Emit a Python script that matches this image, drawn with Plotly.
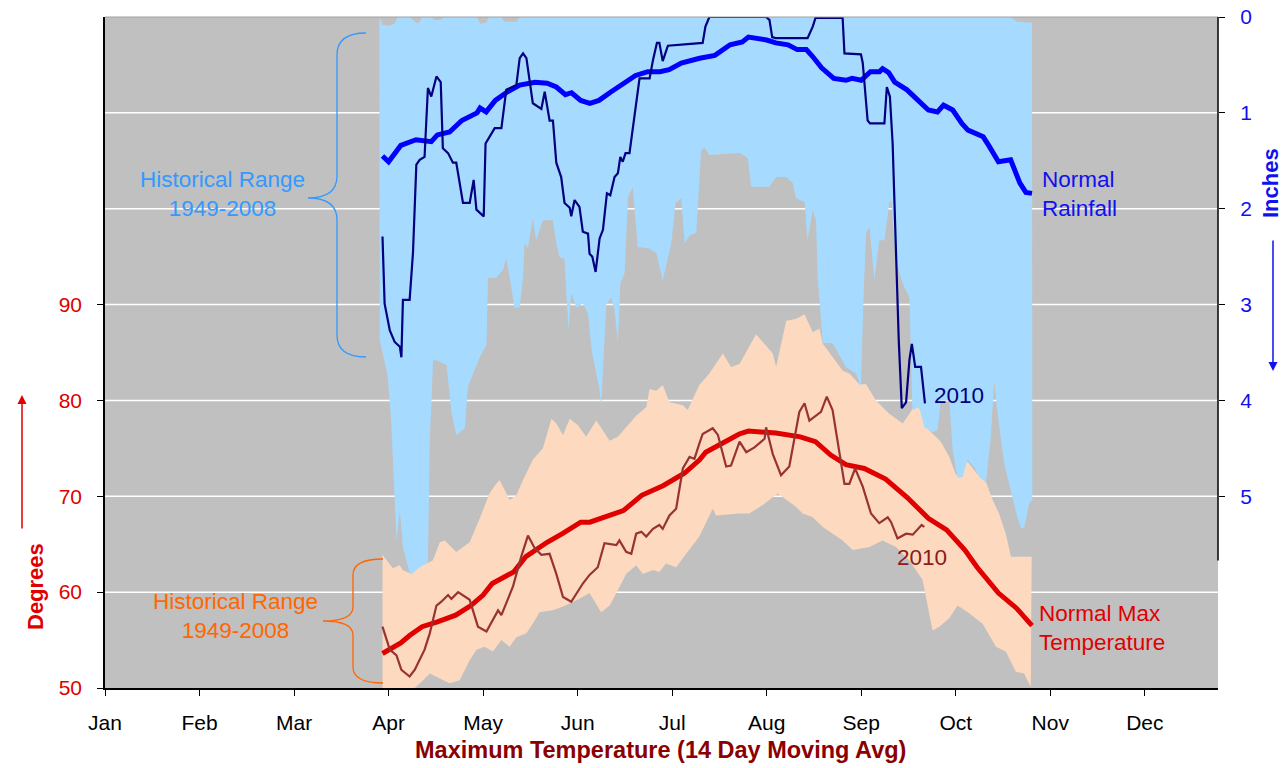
import plotly.graph_objects as go

# ---------------- data (x = day of year) ----------------
months = ['Jan', 'Feb', 'Mar', 'Apr', 'May', 'Jun', 'Jul', 'Aug', 'Sep', 'Oct', 'Nov', 'Dec']
month_ticks = [0, 31, 62, 93, 124, 155, 186, 217, 248, 279, 310, 341]
deg_ticks = [50, 60, 70, 80, 90]
inch_ticks = [0, 1, 2, 3, 4, 5]

# Normal rainfall (inches, 14 day)
rain_norm_day = [91, 93, 97, 102, 107, 109, 113, 117, 122, 123, 125, 128, 132, 136, 141, 145, 148, 151, 153, 156,
                 159, 162, 166, 170, 174, 178, 182, 185, 189, 195, 200, 205, 209, 211, 217, 220, 224, 227, 230, 232,
                 235, 239, 243, 245, 248, 251, 254, 255, 257, 259, 263, 267, 270, 273, 275, 278, 281, 283, 288, 290,
                 293, 297, 300, 302, 304]
rain_norm = [1.45, 1.51, 1.34, 1.28, 1.30, 1.23, 1.20, 1.08, 1.00, 0.95, 0.99, 0.87, 0.78, 0.71, 0.68, 0.69, 0.73, 0.81, 0.79, 0.87,
             0.90, 0.87, 0.78, 0.69, 0.61, 0.57, 0.57, 0.55, 0.48, 0.43, 0.40, 0.29, 0.26, 0.21, 0.24, 0.27, 0.29, 0.34, 0.34, 0.41,
             0.53, 0.64, 0.66, 0.64, 0.66, 0.57, 0.57, 0.54, 0.58, 0.68, 0.76, 0.88, 0.97, 0.99, 0.92, 0.97, 1.11, 1.18, 1.25, 1.35,
             1.51, 1.49, 1.73, 1.83, 1.84]

# 2010 rainfall (inches, 14 day)
rain10_day = [91.0, 91.7, 93.4, 95.0, 96.7, 97.2, 97.7, 99.9, 101.0, 102.1,
              103.2, 104.8, 105.9, 107.0, 108.7, 110.1, 110.8, 112.5, 114.1, 115.2,
              117.4, 119.6, 120.9, 121.8, 124.2, 124.8, 126.1, 127.8, 130.0, 131.6,
              134.9, 136.0, 137.1, 138.2, 140.3, 143.1, 144.2, 145.8, 146.9, 148.0,
              149.6, 150.7, 152.4, 152.9, 154.0, 155.6, 156.7, 158.4, 158.9, 159.8,
              160.9, 162.2, 163.3, 164.6, 165.7, 167.1, 168.2, 169.0, 169.8, 170.7,
              172.0, 174.2, 175.3, 178.6, 179.7, 181.0, 181.8, 182.9, 184.6, 196.0,
              196.9, 198.2, 216.8, 217.9, 218.8, 219.9, 230.4, 232.1, 233.0, 241.9,
              242.5, 247.9, 248.5, 250.1, 250.9, 255.6, 256.4, 257.4, 258.3, 260.3,
              261.3, 262.7, 263.8, 264.6, 265.7, 267.6, 268.9]
rain10 = [2.29, 2.99, 3.27, 3.39, 3.44, 3.55, 2.95, 2.95, 2.46, 1.54,
          1.49, 1.46, 0.74, 0.83, 0.62, 0.68, 1.37, 1.42, 1.52, 1.52,
          1.94, 1.94, 1.70, 2.01, 2.08, 1.32, 1.25, 1.16, 1.16, 0.76,
          0.71, 0.43, 0.38, 0.43, 0.90, 0.96, 0.78, 1.08, 1.08, 1.52,
          1.67, 1.94, 1.99, 2.08, 1.91, 1.98, 2.24, 2.26, 2.47, 2.50,
          2.66, 2.31, 2.22, 1.84, 1.86, 1.67, 1.63, 1.46, 1.51, 1.42,
          1.42, 0.90, 0.64, 0.64, 0.45, 0.27, 0.27, 0.46, 0.30, 0.27,
          0.10, 0.00, 0.00, 0.03, 0.21, 0.22, 0.22, 0.10, 0.01, 0.01,
          0.38, 0.39, 0.48, 1.08, 1.11, 1.11, 0.73, 0.83, 1.32, 3.37,
          4.08, 4.02, 3.58, 3.41, 3.65, 3.65, 4.03]

# Historical rainfall range 1949-2008 (inches): max and min
rain_max_day = [90.1, 91.7, 92.7, 93.9, 95.0, 95.6, 96.7, 97.7, 99.9, 101.0,
                103.2, 105.9, 106.5, 107.6, 108.7, 112.0, 113.6, 115.2, 118.0, 119.0,
                120.7, 122.9, 125.1, 125.6, 128.3, 130.5, 131.6, 132.7, 134.3, 136.0,
                137.1, 137.6, 138.7, 140.3, 141.4, 143.6, 146.9, 148.0, 149.1, 150.7,
                151.3, 152.0, 152.9, 154.6, 156.7, 158.4, 159.6, 162.2, 162.7, 163.5,
                164.4, 166.0, 167.1, 168.2, 169.0, 170.4, 171.5, 173.1, 174.7, 178.0,
                180.8, 182.9, 185.7, 187.1, 189.0, 190.1, 191.7, 193.9, 195.5, 196.6,
                198.2, 208.1, 210.8, 211.9, 217.9, 220.1, 223.4, 225.5, 226.6, 229.4,
                230.4, 232.1, 233.2, 233.7, 235.4, 238.6, 243.0, 246.3, 247.9, 248.7,
                249.6, 250.7, 252.3, 253.9, 255.6, 257.2, 257.8, 259.4, 261.6, 263.8,
                264.8, 267.0, 268.7, 271.4, 273.0, 274.1, 276.9, 278.0, 279.6, 281.2,
                282.9, 285.1, 286.7, 288.9, 290.5, 291.6, 292.7, 294.9, 296.5, 299.2,
                300.4, 301.4, 303.1, 304.1]
rain_max = [3.37, 3.60, 3.74, 4.24, 5.11, 5.46, 5.15, 5.53, 5.80, 5.80,
            5.74, 5.69, 4.42, 3.58, 3.58, 3.63, 4.12, 4.36, 4.29, 3.86,
            3.72, 3.55, 3.42, 2.72, 2.72, 2.64, 2.52, 2.71, 3.03, 3.03,
            2.71, 2.36, 2.41, 2.10, 2.33, 2.12, 2.12, 2.36, 2.51, 2.52,
            2.88, 3.27, 2.88, 3.03, 2.99, 3.09, 3.48, 3.89, 4.07, 3.48,
            2.99, 2.93, 3.06, 3.40, 2.78, 2.67, 1.88, 1.77, 2.40, 2.41,
            2.46, 2.75, 2.36, 1.94, 1.89, 2.36, 2.28, 2.25, 1.39, 1.36,
            1.44, 1.42, 1.47, 1.77, 1.77, 1.67, 1.67, 1.73, 1.89, 1.93,
            2.33, 2.01, 2.12, 2.71, 3.40, 3.40, 3.65, 3.72, 3.86, 2.95,
            2.25, 2.19, 2.75, 2.33, 2.33, 1.94, 1.91, 2.54, 2.78, 2.92,
            4.10, 4.07, 4.28, 4.33, 4.31, 4.00, 4.00, 4.52, 4.81, 4.80,
            4.62, 4.70, 4.80, 4.86, 4.38, 3.79, 4.13, 4.66, 4.86, 5.22,
            5.33, 5.33, 5.07, 5.04]
rain_min_day = [90, 91, 93, 95, 96, 100, 102, 103, 104, 107, 108, 110, 111, 122, 123, 125, 126,
                130, 131, 135, 136, 297, 299, 304]
rain_min = [0.00, 0.08, 0.09, 0.07, 0.00, 0.00, 0.06, 0.06, 0.00, 0.00, 0.03, 0.03, 0.00, 0.00, 0.07, 0.06, 0.00,
            0.00, 0.05, 0.05, 0.00, 0.00, 0.05, 0.06]

# Normal max temperature (deg F, 14 day)
temp_norm_day = [91, 93, 97, 100, 104, 109, 115, 120, 124, 127, 134, 138, 145, 150, 156, 159, 166, 170, 176, 183,
                 190, 195, 197, 203, 208, 211, 220, 228, 233, 238, 243, 249, 256, 263, 270, 276, 282, 286, 293, 299,
                 304]
temp_norm = [53.6, 54.0, 54.7, 55.5, 56.4, 56.9, 57.6, 58.6, 59.7, 60.9, 62.1, 63.7, 65.2, 66.1, 67.3, 67.3, 68.0, 68.5, 70.1, 71.1,
             72.4, 73.8, 74.6, 75.7, 76.5, 76.8, 76.6, 76.2, 75.7, 74.3, 73.3, 72.9, 71.8, 69.9, 67.7, 66.5, 64.4, 62.6, 59.9, 58.3,
             56.5]

# 2010 max temperature (deg F, 14 day)
temp10_day = [91.0, 92.3, 93.4, 95.6, 97.2, 99.9, 101.6, 104.8, 106.5, 108.7,
              110.3, 112.5, 113.6, 115.8, 119.6, 122.3, 125.1, 128.9, 130.0, 133.8,
              136.5, 138.7, 140.9, 143.1, 145.8, 148.0, 150.2, 152.9, 156.7, 158.9,
              161.6, 163.8, 167.7, 168.7, 170.9, 172.6, 174.2, 175.9, 177.5, 179.7,
              181.8, 182.9, 185.1, 187.3, 189.5, 191.7, 193.3, 194.9, 196.0, 199.3,
              201.0, 203.7, 205.3, 208.1, 210.3, 213.0, 216.3, 216.8, 219.0, 221.7,
              224.4, 227.7, 229.4, 231.0, 233.2, 234.8, 236.7, 238.6, 242.5, 244.1,
              246.0, 248.5, 251.2, 253.9, 256.7, 257.8, 259.9, 262.7, 264.9, 266.5,
              267.8, 268.7]
temp10 = [56.4, 55.0, 54.0, 53.4, 51.9, 51.2, 51.9, 54.0, 55.7, 58.6,
          59.0, 59.7, 59.3, 60.0, 59.2, 56.4, 55.9, 58.1, 57.6, 60.6,
          63.7, 65.9, 64.6, 63.9, 64.0, 61.9, 59.5, 59.0, 60.9, 61.8,
          62.6, 65.1, 64.9, 65.4, 64.2, 64.0, 66.1, 66.3, 65.8, 66.6,
          67.0, 66.6, 68.0, 68.7, 72.9, 74.1, 73.9, 75.5, 76.5, 77.1,
          76.4, 73.1, 73.2, 75.7, 74.6, 75.1, 76.0, 77.2, 74.4, 72.2,
          73.1, 78.8, 79.7, 77.9, 78.4, 78.8, 80.4, 79.0, 71.3, 71.3,
          72.9, 71.0, 68.2, 67.2, 67.8, 67.3, 65.6, 66.1, 66.0, 66.5,
          67.0, 66.8]

# Historical temperature range 1949-2008: high and low
temp_hi_day = [91.0, 92.7, 94.4, 96.7, 97.6, 100.5, 102.6, 105.4, 107.5, 109.8,
               111.4, 115.2, 119.6, 122.9, 126.1, 127.8, 129.4, 132.7, 134.9, 137.1,
               140.3, 143.6, 146.4, 148.0, 150.2, 152.4, 155.1, 157.8, 161.1, 165.5,
               168.2, 170.9, 174.2, 177.5, 178.6, 180.8, 182.9, 185.1, 189.5, 191.1,
               194.9, 198.2, 202.6, 205.3, 208.1, 213.5, 219.0, 220.1, 223.4, 226.6,
               229.4, 232.1, 234.3, 235.4, 238.6, 241.9, 244.1, 247.4, 249.6, 252.8,
               257.2, 261.6, 263.8, 266.0, 268.1, 270.3, 274.1, 276.9, 279.1, 282.9,
               285.6, 288.9, 291.1, 293.2, 295.4, 297.1, 303.9]
temp_hi = [63.9, 63.2, 62.5, 62.8, 62.3, 61.9, 62.6, 63.0, 63.3, 65.2,
           65.4, 64.2, 65.2, 67.7, 70.3, 71.1, 71.7, 69.6, 70.1, 71.7,
           73.8, 75.0, 78.1, 77.6, 76.4, 78.1, 77.4, 76.2, 77.9, 75.8,
           76.2, 77.2, 78.4, 79.3, 81.2, 81.0, 81.6, 79.8, 79.5, 79.0,
           81.6, 82.8, 84.9, 83.5, 83.8, 86.9, 84.9, 83.5, 88.3, 88.5,
           89.0, 87.1, 87.5, 85.9, 84.5, 83.1, 82.8, 81.7, 81.7, 80.0,
           78.6, 77.6, 78.6, 79.7, 78.6, 76.9, 75.7, 74.1, 72.2, 73.6,
           72.5, 71.5, 69.6, 68.2, 66.1, 63.7, 63.7]
temp_lo_day = [91.0, 101.6, 104.3, 106.5, 109.8, 113.0, 116.3, 119.6, 121.8, 124.5,
               127.2, 130.0, 132.7, 134.9, 138.2, 140.3, 142.5, 146.9, 150.2, 152.4,
               155.6, 158.9, 161.1, 162.7, 165.5, 167.7, 170.9, 174.2, 176.4, 179.7,
               181.8, 184.0, 187.3, 190.6, 194.9, 199.3, 200.4, 208.1, 211.3, 215.7,
               220.6, 223.4, 226.6, 228.8, 232.1, 235.4, 238.6, 241.9, 245.2, 250.7,
               255.0, 259.4, 263.8, 268.1, 271.4, 273.6, 276.9, 279.6, 283.4, 287.8,
               292.2, 295.4, 298.7, 301.4, 303.6]
temp_lo = [50.0, 50.0, 50.8, 51.5, 51.0, 50.5, 50.8, 52.9, 54.0, 54.3,
           53.8, 55.0, 54.3, 55.3, 55.7, 56.7, 57.9, 58.1, 58.5, 58.8,
           59.3, 59.9, 58.8, 57.9, 58.6, 59.9, 61.9, 62.8, 61.9, 62.3,
           62.1, 63.0, 62.6, 64.0, 65.8, 68.7, 68.0, 68.2, 68.2, 69.1,
           70.3, 69.6, 68.9, 68.2, 67.8, 66.8, 66.1, 65.4, 64.4, 64.7,
           65.4, 64.7, 63.3, 61.3, 56.0, 56.4, 57.3, 58.6, 57.8, 56.7,
           54.3, 53.8, 51.7, 51.5, 50.1]

# ---------------- layout helpers (pixel -> paper) ----------------
W, H = 1283, 768
ML, MR, MT, MB = 105, 65, 17, 80
PW, PH = W - ML - MR, H - MT - MB


def px(x):
    return (x - ML) / PW


def py(y):
    return (H - MB - y) / PH


def brace_path(pts):
    out = []
    for cmd, coords in pts:
        out.append(cmd + ' ' + ' '.join(f'{px(a):.5f},{py(b):.5f}' for a, b in coords))
    return ' '.join(out)


FONT = 'Liberation Sans, Arial, sans-serif'
BLUE_FILL = '#A6DBFF'
PEACH = '#FDD9BF'

fig = go.Figure()

# Temperature historical range (left axis)
fig.add_trace(go.Scatter(
    x=temp_hi_day + temp_lo_day[::-1], y=temp_hi + temp_lo[::-1],
    fill='toself', fillcolor=PEACH, mode='lines', line=dict(width=0),
    hoverinfo='skip', yaxis='y'))
fig.add_trace(go.Scatter(x=temp_norm_day, y=temp_norm, mode='lines',
                         line=dict(color='#E00000', width=5), yaxis='y'))
fig.add_trace(go.Scatter(x=temp10_day, y=temp10, mode='lines',
                         line=dict(color='#993333', width=2.2), yaxis='y'))

# Rainfall historical range (right axis, reversed)
fig.add_trace(go.Scatter(
    x=rain_max_day + rain_min_day[::-1], y=rain_max + rain_min[::-1],
    fill='toself', fillcolor=BLUE_FILL, mode='lines', line=dict(width=0),
    hoverinfo='skip', yaxis='y2'))
fig.add_trace(go.Scatter(x=rain_norm_day, y=rain_norm, mode='lines',
                         line=dict(color='#0000FF', width=5), yaxis='y2'))
fig.add_trace(go.Scatter(x=rain10_day, y=rain10, mode='lines',
                         line=dict(color='#000080', width=2.2), yaxis='y2'))

shapes = []
for v in [60, 70, 80, 90, 100, 110]:
    shapes.append(dict(type='line', xref='paper', x0=0, x1=1, yref='y', y0=v, y1=v,
                       line=dict(color='white', width=1.5), layer='below'))
shapes.append(dict(type='line', xref='paper', x0=0, x1=1, yref='paper', y0=1, y1=1,
                   line=dict(color='#A0A0A0', width=1)))
shapes.append(dict(type='line', xref='paper', x0=1, x1=1, yref='y2', y0=0, y1=5.67,
                   line=dict(color='black', width=1.5)))
shapes.append(dict(type='path', xref='paper', yref='paper', line=dict(color='#3399FF', width=1.3),
                   path=brace_path([('M', [(366, 33)]), ('Q', [(337, 33), (337, 55)]), ('L', [(337, 176)]),
                                    ('Q', [(337, 198), (308, 198)]), ('Q', [(337, 198), (337, 220)]),
                                    ('L', [(337, 335)]), ('Q', [(337, 357), (366, 357)])])))
shapes.append(dict(type='path', xref='paper', yref='paper', line=dict(color='#FF6600', width=1.3),
                   path=brace_path([('M', [(383, 559)]), ('Q', [(353, 559), (353, 575)]), ('L', [(353, 607)]),
                                    ('Q', [(353, 621), (323, 621)]), ('Q', [(353, 621), (353, 635)]),
                                    ('L', [(353, 667)]), ('Q', [(353, 683), (383, 683)])])))

ann = []


def text(t, x, y, color, size=22.5, xanchor='center', bold=False, angle=0, align='center'):
    ann.append(dict(text=(f'<b>{t}</b>' if bold else t), x=px(x), y=py(y), xref='paper', yref='paper',
                    showarrow=False, xanchor=xanchor, yanchor='middle', align=align, textangle=angle,
                    font=dict(family=FONT, size=size, color=color)))


text('Historical Range<br>1949-2008', 222, 194, '#3399FF')
text('Historical Range<br>1949-2008', 235, 616, '#FF6600')
text('Normal<br>Rainfall', 1040, 194, '#1010F0', xanchor='left', align='left')
text('Normal Max<br>Temperature', 1037, 628, '#E00000', xanchor='left', align='left')
text('2010', 932, 396, '#000080', xanchor='left')
text('2010', 895, 557, '#8B1A1A', xanchor='left')
text('Maximum Temperature (14 Day Moving Avg)', 660, 750, '#8B0000', size=23.5, bold=True)
text('Degrees', 35, 587, '#E00000', size=22, bold=True, angle=-90)
text('Inches', 1270, 183, '#1010F0', size=22, bold=True, angle=-90)

ann.append(dict(text='', x=px(22), y=py(395), xref='paper', yref='paper', showarrow=True,
                ax=0, ay=135, arrowhead=2, arrowsize=1.2, arrowwidth=1.5, arrowcolor='#E00000'))
ann.append(dict(text='', x=px(1273), y=py(371), xref='paper', yref='paper', showarrow=True,
                ax=0, ay=-132, arrowhead=2, arrowsize=1.2, arrowwidth=1.5, arrowcolor='#1010F0'))

fig.update_layout(
    width=W, height=H,
    margin=dict(l=ML, r=MR, t=MT, b=MB, autoexpand=False),
    paper_bgcolor='white', plot_bgcolor='#C0C0C0',
    showlegend=False,
    font=dict(family=FONT),
    xaxis=dict(range=[0, 365], tickvals=month_ticks, ticktext=months, ticks='outside', ticklen=6,
               tickcolor='black', showline=True, linecolor='black', linewidth=1.5, showgrid=False,
               zeroline=False, tickfont=dict(size=21, color='black'), ticklabelstandoff=9,
               automargin=False),
    yaxis=dict(range=[50, 120], tickvals=deg_ticks, ticks='outside', ticklen=6, tickcolor='black',
               showline=True, linecolor='black', linewidth=1.5, showgrid=False, zeroline=False,
               tickfont=dict(size=21, color='#E00000'), ticklabelstandoff=11, automargin=False),
    yaxis2=dict(range=[7, 0], tickvals=inch_ticks, overlaying='y', side='right', ticks='outside',
                ticklen=6, tickcolor='black', showline=False, showgrid=False, zeroline=False,
                tickfont=dict(size=21, color='#1010F0'), ticklabelstandoff=11, automargin=False),
    shapes=shapes, annotations=ann,
)

fig.write_html('out.html', config={'displayModeBar': False},
               post_script="document.body.style.margin='0';document.body.style.overflow='hidden';")
